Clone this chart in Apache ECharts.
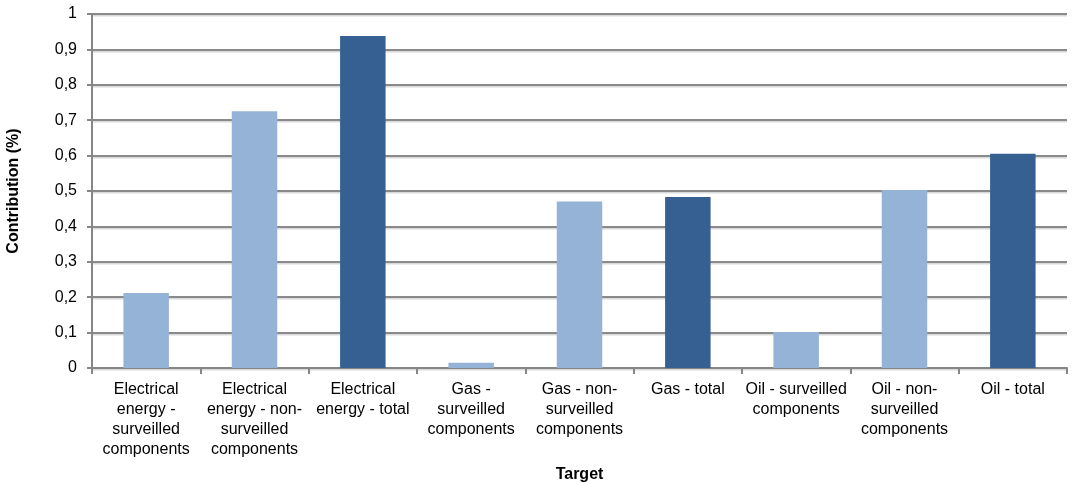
<!DOCTYPE html>
<html>
<head>
<meta charset="utf-8">
<script src="https://cdn.jsdelivr.net/npm/echarts@6/dist/echarts.min.js"></script>
<style>
  html, body { margin: 0; padding: 0; background: #ffffff; }
  #chart { width: 1077px; height: 484px; }
</style>
</head>
<body>
<div id="chart"></div>
<script>
// Target categories (line breaks as they wrap under each bar)
const categories = [
  'Electrical\nenergy -\nsurveilled\ncomponents',
  'Electrical\nenergy - non-\nsurveilled\ncomponents',
  'Electrical\nenergy - total',
  'Gas -\nsurveilled\ncomponents',
  'Gas - non-\nsurveilled\ncomponents',
  'Gas - total',
  'Oil - surveilled\ncomponents',
  'Oil - non-\nsurveilled\ncomponents',
  'Oil - total'
];

// Contribution of each target
const values = [0.212, 0.725, 0.938, 0.015, 0.470, 0.483, 0.102, 0.503, 0.605];

// Whether the bar is a sub-component or a total
const isTotal = [false, false, true, false, false, true, false, false, true];

const yTicks = [0, 0.1, 0.2, 0.3, 0.4, 0.5, 0.6, 0.7, 0.8, 0.9, 1];

const COLOR_PART = '#95b3d7';
const COLOR_TOTAL = '#366092';
const FONT = '"Liberation Sans", Arial, sans-serif';

const chart = echarts.init(document.getElementById('chart'), null, { renderer: 'canvas' });

chart.setOption({
  animation: false,
  backgroundColor: '#ffffff',
  grid: {
    left: 92, right: 10, top: 14, bottom: 116,
    containLabel: false,
    outerBoundsMode: 'none'
  },
  xAxis: {
    type: 'category',
    data: categories,
    name: 'Target',
    nameLocation: 'middle',
    nameGap: 99,
    nameTextStyle: { fontFamily: FONT, fontSize: 16, fontWeight: 'bold', color: '#000' },
    axisLine: { lineStyle: { color: '#868686', width: 2 } },
    axisTick: { show: true, alignWithLabel: false, length: 6, lineStyle: { color: '#868686', width: 2 } },
    axisLabel: {
      interval: 0,
      margin: 12,
      fontFamily: FONT,
      fontSize: 16,
      lineHeight: 20,
      color: '#000'
    }
  },
  yAxis: {
    type: 'value',
    min: 0,
    max: 1,
    interval: 0.1,
    name: 'Contribution (%)',
    nameLocation: 'middle',
    nameGap: 70,
    nameRotate: 90,
    nameTextStyle: { fontFamily: FONT, fontSize: 16, fontWeight: 'bold', color: '#000' },
    axisLine: { show: true, lineStyle: { color: '#868686', width: 2 } },
    axisTick: { show: true, length: 5, lineStyle: { color: '#868686', width: 2 } },
    axisLabel: {
      margin: 15,
      fontFamily: FONT,
      fontSize: 16,
      color: '#000',
      formatter: function (v) {
        const t = yTicks.find(x => Math.abs(x - v) < 1e-9);
        return String(Math.round((t !== undefined ? t : v) * 10) / 10).replace('.', ',');
      }
    },
    splitLine: {
      show: true,
      lineStyle: {
        color: '#8a8a8a',
        width: 2,
        shadowColor: 'rgba(0,0,0,0.15)',
        shadowOffsetY: 1.5,
        shadowBlur: 0
      }
    }
  },
  series: [{
    type: 'bar',
    barWidth: '42%',
    data: values.map((v, i) => ({
      value: v,
      itemStyle: { color: isTotal[i] ? COLOR_TOTAL : COLOR_PART }
    })),
    z: 3
  }]
});
</script>
</body>
</html>
